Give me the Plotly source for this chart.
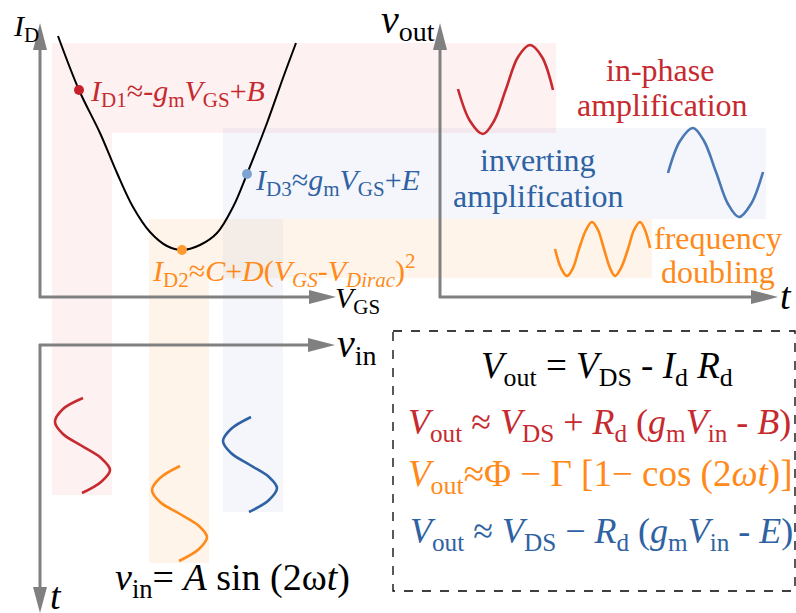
import plotly.graph_objects as go

# ---------------- data (diagram coordinates) ----------------
# transfer curve I_D(V_GS)
curve_x = [58, 79, 100, 117, 133, 150, 167, 182, 200, 217, 233, 247, 267, 283, 296]
curve_y = [36, 90, 133, 173, 207, 232, 246, 250, 245, 233, 207, 174, 123, 78, 43]

# operating points
pt_x = [79, 182, 247]
pt_y = [90, 250, 174]
pt_colors = ["#c8202a", "#ff9a30", "#7fa3d0"]

# output waves (v_out vs t)
out_red_x = [458, 470, 483, 494, 506, 518, 530, 542, 553]
out_red_y = [89, 121, 134, 121, 89, 57, 45, 57, 90]
out_blue_x = [668, 680, 693, 704, 716, 728, 739, 751, 763]
out_blue_y = [173, 141, 128, 141, 172, 204, 217, 204, 172]
out_orange_x = [555, 561, 567, 573, 579, 586, 592, 598, 604, 610, 615, 621, 628, 634, 640, 645, 650]
out_orange_y = [249, 268, 276, 268, 249, 230, 222, 230, 249, 268, 276, 268, 249, 230, 222, 230, 248]

# input waves (v_in vs t, t downward)
in_red_x = [83, 63, 55, 63, 82, 101, 110, 101, 82]
in_red_y = [398, 409, 422, 434, 446, 458, 470, 482, 493]
in_orange_x = [180, 160, 152, 160, 180, 199, 207, 199, 179]
in_orange_y = [466, 478, 490, 502, 514, 526, 537, 549, 561]
in_blue_x = [251, 231, 223, 231, 250, 269, 277, 269, 249]
in_blue_y = [417, 429, 441, 453, 465, 477, 488, 500, 512]

RED = "#c62a2f"
BLUE = "#2f62a3"
ORANGE = "#ff8a1a"
GRAY = "#808080"
FONT = "Liberation Serif, Times New Roman, serif"

fig = go.Figure()

fig.add_trace(go.Scatter(x=curve_x, y=curve_y, mode="lines",
                         line=dict(color="black", width=2, shape="spline", smoothing=1.0),
                         hoverinfo="skip"))
for xs, ys, c in [(out_red_x, out_red_y, RED), (out_blue_x, out_blue_y, "#4a78b5"),
                  (out_orange_x, out_orange_y, ORANGE),
                  (in_red_x, in_red_y, RED), (in_orange_x, in_orange_y, ORANGE),
                  (in_blue_x, in_blue_y, BLUE)]:
    fig.add_trace(go.Scatter(x=xs, y=ys, mode="lines",
                             line=dict(color=c, width=2.6, shape="spline", smoothing=1.0),
                             hoverinfo="skip"))
fig.add_trace(go.Scatter(x=pt_x, y=pt_y, mode="markers",
                         marker=dict(color=pt_colors, size=10, line=dict(width=0)),
                         hoverinfo="skip"))

shapes = []
# shaded L-shaped bands
shapes.append(dict(type="path", path="M52,43 L556,43 L556,133 L112,133 L112,495 L52,495 Z",
                   fillcolor="rgba(230,40,40,0.065)", line=dict(width=0), layer="below"))
shapes.append(dict(type="path", path="M223,128 L766,128 L766,219 L283,219 L283,512 L223,512 Z",
                   fillcolor="rgba(70,110,190,0.06)", line=dict(width=0), layer="below"))
shapes.append(dict(type="path", path="M149,219 L652,219 L652,278 L209,278 L209,563 L149,563 Z",
                   fillcolor="rgba(250,150,50,0.1)", line=dict(width=0), layer="below"))

# axes (lines + triangular heads)
def arrow(x0, y0, x1, y1, direction):
    shapes.append(dict(type="line", x0=x0, y0=y0, x1=x1, y1=y1,
                       line=dict(color=GRAY, width=3)))
    if direction == "up":
        p = f"M{x1},{y1-26} L{x1-7},{y1+1} L{x1+7},{y1+1} Z"
    elif direction == "right":
        p = f"M{x1+26},{y1} L{x1-1},{y1-7} L{x1-1},{y1+7} Z"
    else:  # down
        p = f"M{x1},{y1+25} L{x1-7},{y1-1} L{x1+7},{y1-1} Z"
    shapes.append(dict(type="path", path=p, fillcolor=GRAY, line=dict(width=0)))

arrow(40, 298, 40, 49, "up")
arrow(39, 297, 310, 297, "right")
arrow(440, 298, 440, 49, "up")
arrow(439, 297, 752, 297, "right")
arrow(39, 345, 309, 345, "right")
arrow(40, 344, 40, 588, "down")

# dashed equation box
shapes.append(dict(type="rect", x0=393, y0=331, x1=795, y1=591,
                   line=dict(color="black", width=1.3, dash="dash")))

ann = []
def txt(x, y, s, color="black", size=30, xanchor="left", yanchor="middle"):
    ann.append(dict(x=x, y=y, text=s, showarrow=False, xanchor=xanchor, yanchor=yanchor,
                    font=dict(family=FONT, size=size, color=color)))

# axis labels
txt(11, 28, "<i>I</i><sub>D</sub>", size=30)
txt(333, 300, "<i>V</i><sub>GS</sub>", size=30)
txt(379, 22, "<i>v</i><sub>out</sub>", size=40)
txt(335, 346, "<i>v</i><sub>in</sub>", size=40)
txt(778, 296, "<i>t</i>", size=38)
txt(48, 596, "<i>t</i>", size=38)

# operating-point formulas
txt(88, 93, "<i>I</i><sub>D1</sub>≈-<i>g</i><sub>m</sub><i>V</i><sub>GS</sub>+<i>B</i>", RED, 30)
txt(253, 182, "<i>I</i><sub>D3</sub>≈<i>g</i><sub>m</sub><i>V</i><sub>GS</sub>+<i>E</i>", BLUE, 30)
txt(150, 270, "<i>I</i><sub>D2</sub>≈<i>C</i>+<i>D</i>(<i>V</i><sub><i>GS</i></sub>-<i>V</i><sub><i>Dirac</i></sub>)<sup>2</sup>",
    ORANGE, 30)

# mode labels
txt(660, 70, "in-phase", RED, 32, "center")
txt(662, 105, "amplification", RED, 32, "center")
txt(538, 160, "inverting", BLUE, 32, "center")
txt(538, 196, "amplification", BLUE, 32, "center")
txt(718, 238, "frequency", ORANGE, 32, "center")
txt(718, 272, "doubling", ORANGE, 32, "center")

# input formula
txt(232, 580, "<i>v</i><sub>in</sub>= <i>A</i> sin (2ω<i>t</i>)", "black", 38, "center")

# equations in the box
txt(607, 368, "<i>V</i><sub>out</sub> = <i>V</i><sub>DS</sub> - <i>I</i><sub>d</sub> <i>R</i><sub>d</sub>", "black", 37, "center")
txt(599, 424, "<i>V</i><sub>out</sub> ≈ <i>V</i><sub>DS</sub> + <i>R</i><sub>d</sub> (<i>g</i><sub>m</sub><i>V</i><sub>in</sub> - <i>B</i>)", RED, 36, "center")
txt(600, 476, "<i>V</i><sub>out</sub>≈Φ − Γ [1− cos (2<i>ωt</i>)]", ORANGE, 37, "center")
txt(601, 533, "<i>V</i><sub>out</sub> ≈ <i>V</i><sub>DS</sub> − <i>R</i><sub>d</sub> (<i>g</i><sub>m</sub><i>V</i><sub>in</sub> - <i>E</i>)", BLUE, 36, "center")

fig.update_layout(
    width=796, height=613,
    margin=dict(l=0, r=0, t=0, b=0),
    paper_bgcolor="white", plot_bgcolor="white",
    showlegend=False,
    xaxis=dict(range=[0, 796], visible=False, fixedrange=True),
    yaxis=dict(range=[613, 0], visible=False, fixedrange=True),
    shapes=shapes, annotations=ann,
)

fig.write_html("out.html", config={"displayModeBar": False},
               post_script="document.body.style.margin='0';document.body.style.overflow='hidden';")
